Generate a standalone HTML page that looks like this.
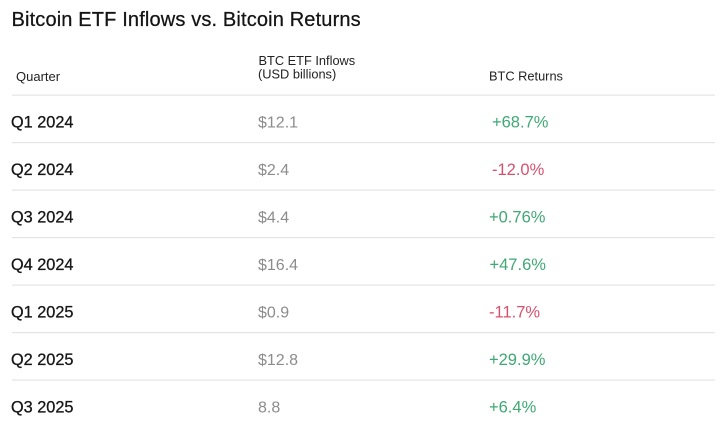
<!DOCTYPE html>
<html>
<head>
<meta charset="utf-8">
<style>
  html, body { margin: 0; padding: 0; background: #ffffff; }
  body { width: 726px; height: 433px; overflow: hidden; }
  svg { display: block; }
  text { font-family: "Liberation Sans", "DejaVu Sans", sans-serif; }
  .title { font-size: 20px; fill: #141414; stroke: #141414; stroke-width: 0.25px; letter-spacing: 0.15px; }
  .hdr { font-size: 12.8px; fill: #222222; }
  .q { font-size: 16.3px; fill: #161616; stroke: #161616; stroke-width: 0.3px; }
  .v { font-size: 16px; fill: #8c8c8c; }
  .pos { font-size: 16.5px; fill: #3fa874; }
  .neg { font-size: 16.5px; fill: #d9506f; }
</style>
</head>
<body>
<svg width="726" height="433" viewBox="0 0 726 433" xmlns="http://www.w3.org/2000/svg">
  <rect x="0" y="0" width="726" height="433" fill="#ffffff"/>

  <text class="title" x="11.5" y="26">Bitcoin ETF Inflows vs. Bitcoin Returns</text>

  <text class="hdr" x="16" y="81" style="font-size:13px">Quarter</text>
  <text class="hdr" x="258.5" y="65">BTC ETF Inflows</text>
  <text class="hdr" x="258" y="78.5">(USD billions)</text>
  <text class="hdr" x="489" y="80.5">BTC Returns</text>

  <g fill="#e4e4e4">
    <rect x="12" y="94.5" width="703" height="1.2"/>
    <rect x="12" y="142" width="703" height="1.2"/>
    <rect x="12" y="189.5" width="703" height="1.2"/>
    <rect x="12" y="237" width="703" height="1.2"/>
    <rect x="12" y="284.5" width="703" height="1.2"/>
    <rect x="12" y="332" width="703" height="1.2"/>
    <rect x="12" y="379.5" width="703" height="1.2"/>
  </g>

  <text class="q" x="11" y="127.3">Q1 2024</text>
  <text class="v" x="258" y="127.3">$12.1</text>
  <text class="pos" x="492" y="127.3">+68.7%</text>

  <text class="q" x="11" y="174.8">Q2 2024</text>
  <text class="v" x="258" y="174.8">$2.4</text>
  <text class="neg" x="492" y="174.8">-12.0%</text>

  <text class="q" x="11" y="222.3">Q3 2024</text>
  <text class="v" x="258" y="222.3">$4.4</text>
  <text class="pos" x="489" y="222.3">+0.76%</text>

  <text class="q" x="11" y="269.8">Q4 2024</text>
  <text class="v" x="258" y="269.8">$16.4</text>
  <text class="pos" x="489.5" y="269.8">+47.6%</text>

  <text class="q" x="11" y="317.3">Q1 2025</text>
  <text class="v" x="258" y="317.3">$0.9</text>
  <text class="neg" x="489" y="317.3">-11.7%</text>

  <text class="q" x="11" y="364.8">Q2 2025</text>
  <text class="v" x="258" y="364.8">$12.8</text>
  <text class="pos" x="489" y="364.8">+29.9%</text>

  <text class="q" x="11" y="412.3">Q3 2025</text>
  <text class="v" x="258" y="412.3">8.8</text>
  <text class="pos" x="489" y="412.3">+6.4%</text>
</svg>
</body>
</html>
